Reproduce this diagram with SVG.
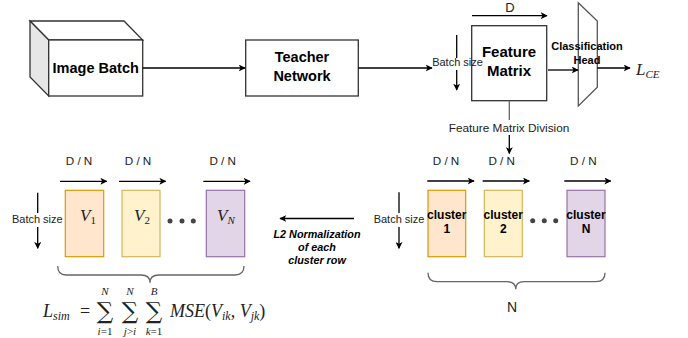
<svg xmlns="http://www.w3.org/2000/svg" width="688" height="338" viewBox="0 0 688 338">
<defs>
<marker id="ah" viewBox="0 0 10 10" refX="9" refY="5" markerWidth="7" markerHeight="7" orient="auto" markerUnits="userSpaceOnUse">
<path d="M0,0 L10,5 L0,10 L2.5,5 z" fill="#000"/>
</marker>
<style>
.box{fill:#fff;stroke:#333;stroke-width:1.3}
.lbl{font-family:"Liberation Sans",Arial,sans-serif;font-weight:bold;fill:#000;text-anchor:middle}
.sm{font-family:"Liberation Sans",Arial,sans-serif;font-size:11px;fill:#222;text-anchor:middle}
.dn{font-size:11.7px}
.ln{stroke:#000;stroke-width:1.3;fill:none}
.gl{stroke:#666;stroke-width:1.3;fill:none}
.math{font-family:"Liberation Serif","Times New Roman",serif;font-style:italic;fill:#222}
.sum{font-family:"DejaVu Serif",serif;font-size:23px;fill:#222;text-anchor:middle}
.dot{fill:#444}
</style>
</defs>
<rect width="688" height="338" fill="#fff"/>

<g id="image-batch">
<polygon points="30,21 124,21 142.7,40 48.7,40" fill="#fff" stroke="#333" stroke-width="1.3"/>
<polygon points="30,21 48.7,40 48.7,96 30,77" fill="#e6e6e6" stroke="#333" stroke-width="1.3"/>
<rect class="box" x="48.7" y="40" width="94" height="56"/>
<text class="lbl" x="95.7" y="73" font-size="14.5">Image Batch</text>
</g>

<g id="teacher-network">
<rect class="box" x="245.7" y="40" width="112.6" height="56"/>
<text class="lbl" x="302" y="62" font-size="14.5">Teacher</text>
<text class="lbl" x="302" y="81" font-size="14.5">Network</text>
</g>

<g id="feature-matrix">
<rect class="box" x="471.7" y="25.7" width="75" height="75"/>
<text class="lbl" x="509" y="57" font-size="15">Feature</text>
<text class="lbl" x="509" y="76" font-size="15">Matrix</text>
<text class="sm" x="510" y="12" style="font-size:13px">D</text>
<text class="sm" x="457.5" y="66">Batch size</text>
</g>

<g id="classification-head">
<polygon points="578.3,2.7 597.3,21 597.3,87.3 578.3,106" fill="none" stroke="#555" stroke-width="1.3"/>
<text class="lbl" x="587" y="50" font-size="11">Classification</text>
<text class="lbl" x="587" y="63.5" font-size="11">Head</text>
</g>

<g id="lce">
<text class="math" x="636" y="75" font-size="17">L<tspan font-size="11" dy="3">CE</tspan></text>
</g>

<g id="clusters">
<text class="sm dn" x="446" y="165">D / N</text>
<text class="sm dn" x="501.7" y="165">D / N</text>
<text class="sm dn" x="583.3" y="165">D / N</text>
<text class="sm" x="399" y="223">Batch size</text>
<g id="cluster-1">
<rect x="428" y="190.3" width="37.7" height="66.4" fill="#ffe6cc" stroke="#d79b00" stroke-width="1.2"/>
<text class="lbl" x="446.8" y="219" font-size="12">cluster</text>
<text class="lbl" x="446.8" y="233" font-size="12">1</text>
</g>
<g id="cluster-2">
<rect x="484.3" y="190.3" width="38" height="66.4" fill="#fff2cc" stroke="#d6b656" stroke-width="1.2"/>
<text class="lbl" x="503.3" y="219" font-size="12">cluster</text>
<text class="lbl" x="503.3" y="233" font-size="12">2</text>
</g>
<g id="cluster-n">
<rect x="567" y="190.3" width="38" height="66.4" fill="#e1d5e7" stroke="#9673a6" stroke-width="1.2"/>
<text class="lbl" x="586" y="219" font-size="12">cluster</text>
<text class="lbl" x="586" y="233" font-size="12">N</text>
</g>
<circle class="dot" cx="532.7" cy="220.7" r="2.5"/>
<circle class="dot" cx="544.3" cy="220.7" r="2.5"/>
<circle class="dot" cx="555.7" cy="220.7" r="2.5"/>
<path class="gl" d="M428,272.7 Q428,281.7 437,281.7 L507,281.7 Q515.7,281.7 515.7,289.3 Q515.7,281.7 524,281.7 L596,281.7 Q605,281.7 605,272.7"/>
<text class="sm" x="512" y="312" style="font-size:14px">N</text>
</g>

<g id="normalization-label">
<text class="lbl" x="317" y="237.5" font-size="10.8" font-style="italic">L2 Normalization</text>
<text class="lbl" x="317" y="251" font-size="10.8" font-style="italic">of each</text>
<text class="lbl" x="317" y="264" font-size="10.8" font-style="italic">cluster row</text>
</g>

<g id="v-blocks">
<text class="sm dn" x="79" y="165">D / N</text>
<text class="sm dn" x="138" y="165">D / N</text>
<text class="sm dn" x="222.7" y="165">D / N</text>
<text class="sm" x="37.3" y="223">Batch size</text>
<g id="v1">
<rect x="65.3" y="190.3" width="38.4" height="66.4" fill="#ffe6cc" stroke="#d79b00" stroke-width="1.2"/>
<text class="math" x="80" y="221" font-size="17">V<tspan font-size="11" font-style="normal" dy="3">1</tspan></text>
</g>
<g id="v2">
<rect x="122" y="190.3" width="38" height="66.4" fill="#fff2cc" stroke="#d6b656" stroke-width="1.2"/>
<text class="math" x="134" y="221" font-size="17">V<tspan font-size="11" font-style="normal" dy="3">2</tspan></text>
</g>
<g id="vn">
<rect x="206.3" y="190.3" width="38.4" height="66.4" fill="#e1d5e7" stroke="#9673a6" stroke-width="1.2"/>
<text class="math" x="217" y="221" font-size="17">V<tspan font-size="11" dy="3">N</tspan></text>
</g>
<circle class="dot" cx="170" cy="221" r="2.5"/>
<circle class="dot" cx="182" cy="221" r="2.5"/>
<circle class="dot" cx="193.3" cy="221" r="2.5"/>
<path class="gl" d="M57.7,266 Q57.7,275 66,275 L141,275 Q150,275 150,282.7 Q150,275 159,275 L235,275 Q244,275 244,266"/>
</g>

<g id="formula">
<text class="math" x="43" y="317" font-size="18">L<tspan font-size="12" dy="3">sim</tspan></text>
<text x="80" y="317" font-family="Liberation Serif,serif" font-size="18" fill="#222">=</text>
<text class="sum" x="105" y="319">∑</text>
<text class="sum" x="130" y="319">∑</text>
<text class="sum" x="154" y="319">∑</text>
<text class="math" x="105" y="295" font-size="11" text-anchor="middle">N</text>
<text class="math" x="130" y="295" font-size="11" text-anchor="middle">N</text>
<text class="math" x="154" y="295" font-size="11" text-anchor="middle">B</text>
<text class="math" x="105" y="335" font-size="11" text-anchor="middle">i<tspan font-style="normal">=1</tspan></text>
<text class="math" x="130" y="335" font-size="11" text-anchor="middle">j<tspan font-style="normal">&gt;</tspan>i</text>
<text class="math" x="154" y="335" font-size="11" text-anchor="middle">k<tspan font-style="normal">=1</tspan></text>
<text class="math" x="170" y="317" font-size="18">MSE<tspan font-style="normal">(</tspan>V<tspan font-size="12" dy="3">ik</tspan><tspan dy="-3" font-style="normal">, </tspan>V<tspan font-size="12" dy="3">jk</tspan><tspan dy="-3" font-style="normal">)</tspan></text>
</g>

<g id="connectors">
<line class="ln" x1="142.7" y1="68" x2="245" y2="68" marker-end="url(#ah)"/>
<line class="ln" x1="358.3" y1="68" x2="432" y2="68" marker-end="url(#ah)"/>
<line class="ln" x1="472" y1="15.7" x2="547" y2="15.7" marker-end="url(#ah)"/>
<line class="ln" x1="456.7" y1="35" x2="456.7" y2="58" />
<line class="ln" x1="456.7" y1="70" x2="456.7" y2="90" marker-end="url(#ah)"/>
<line class="ln" x1="548" y1="70" x2="578" y2="70" marker-end="url(#ah)"/>
<line class="ln" x1="597.3" y1="68" x2="630" y2="68" marker-end="url(#ah)"/>
<line class="gl" x1="509.3" y1="100.7" x2="509.3" y2="120"/>
<text class="sm" x="509" y="131.5" style="font-size:11.8px">Feature Matrix Division</text>
<line class="ln" x1="509.3" y1="135" x2="509.3" y2="153.5" marker-end="url(#ah)"/>
<line class="ln" x1="427.3" y1="181" x2="474" y2="181" marker-end="url(#ah)"/>
<line class="ln" x1="482.7" y1="181" x2="529.3" y2="181" marker-end="url(#ah)"/>
<line class="ln" x1="564.3" y1="181" x2="610.7" y2="181" marker-end="url(#ah)"/>
<line class="ln" x1="399" y1="192.3" x2="399" y2="213"/>
<line class="ln" x1="399" y1="227" x2="399" y2="248.3" marker-end="url(#ah)"/>
<line class="ln" x1="354" y1="218.5" x2="280" y2="218.5" marker-end="url(#ah)"/>
<line class="ln" x1="60" y1="181.3" x2="106.7" y2="181.3" marker-end="url(#ah)"/>
<line class="ln" x1="119" y1="181.3" x2="165.7" y2="181.3" marker-end="url(#ah)"/>
<line class="ln" x1="203.3" y1="181.3" x2="250" y2="181.3" marker-end="url(#ah)"/>
<line class="ln" x1="37.7" y1="192.7" x2="37.7" y2="213"/>
<line class="ln" x1="37.7" y1="227" x2="37.7" y2="248.3" marker-end="url(#ah)"/>
</g>
</svg>
